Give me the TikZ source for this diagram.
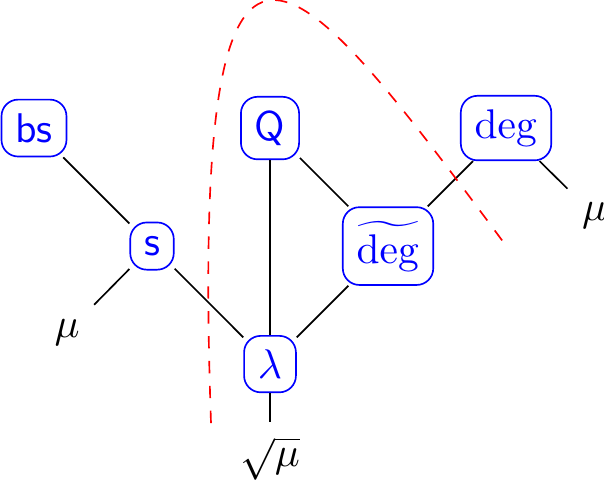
\documentclass[tikz,border=0pt]{standalone}
\usetikzlibrary{positioning}
\begin{document}
\begin{tikzpicture}[
  box/.style={draw=blue,text=blue,rounded corners},
  lbl/.style={inner sep=3.33pt},
  edge/.style={draw=black},
  cut/.style={draw=red,dashed}]
\useasboundingbox (-0.288,-1.0) rectangle (4.83,3.085);
\node[box] (bs) at (0,2) {\textsf{bs}};
\node[box] (s) at (1,1) {\textsf{s}};
\node[box] (Q) at (2,2) {\textsf{Q}};
\node[box] (lam) at (2,0) {$\lambda$};
\node[box] (dt) at (3,1) {$\widetilde{\deg}$};
\node[box] (dg) at (4,2) {$\deg$};
\node[lbl] (mu1) at (0.28,0.27) {$\mu$};
\node[lbl] (mu2) at (4.75,1.26) {$\mu$};
\node[lbl] (smu) at (2,-0.8) {$\sqrt{\mu}$};
\draw[edge] (bs) -- (s);
\draw[edge] (s) -- (mu1);
\draw[edge] (s) -- (lam);
\draw[edge] (Q) -- (lam);
\draw[edge] (lam) -- (dt);
\draw[edge] (Q) -- (dt);
\draw[edge] (dt) -- (dg);
\draw[edge] (dg) -- (mu2);
\draw[edge] (lam) -- (smu);
\coordinate (c0) at (1.5,-0.5);
\coordinate (c1) at (4.01,0.99);
\draw[cut] (c0) .. controls (1.32,4.64) and (2.2,3.42) .. (c1);
\end{tikzpicture}
\end{document}
